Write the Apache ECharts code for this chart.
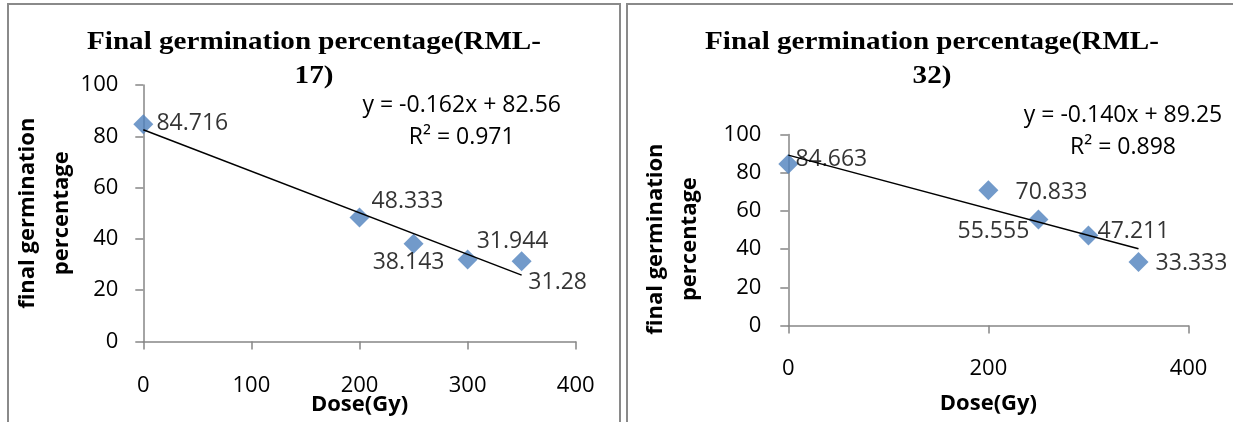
<!DOCTYPE html>
<html>
<head>
<meta charset="utf-8">
<title>Final germination percentage</title>
<script src="https://cdn.jsdelivr.net/npm/echarts@6/dist/echarts.min.js"></script>
<style>
  html, body { margin: 0; padding: 0; background: #fff; }
  #chart { width: 1233px; height: 422px; }
</style>
</head>
<body>
<div id="chart"></div>
<script>
// dose levels (Gy), same for both varieties
var doses = [0, 200, 250, 300, 350];

// RML-17
var germ17 = [84.716, 48.333, 38.143, 31.944, 31.28];
var fit17 = [-0.162, 82.56, 0.971]; // slope, intercept, R2

// RML-32
var germ32 = [84.663, 70.833, 55.555, 47.211, 33.333];
var fit32 = [-0.140, 89.25, 0.898];

var xTicks17 = 100;
var xTicks32 = 200;

// where each value label sits relative to its marker (px)
var offs17 = [[49, -1], [48, -16], [-5, 19], [45, -18], [36, 21]];
var offs32 = [[43, -4], [63, 2], [-45, 12], [45, -4], [53, 2]];

var FONT = 'Open Sans';
var AXIS_GREY = '#868686';

function points(ys, offs) {
    return doses.map(function (d, i) {
        return { value: [d, ys[i]], label: { offset: offs[i] } };
    });
}

function trend(fit) {
    var last = doses[doses.length - 1];
    return [[doses[0], fit[1] + fit[0] * doses[0]], [last, fit[1] + fit[0] * last]];
}

function eqText(fit) {
    var m = fit[0].toFixed(3);
    return 'y = ' + m + 'x + ' + fit[1].toFixed(2) + '\nR\u00b2 = ' + fit[2].toFixed(3);
}

function xAxis(idx, step, labelMargin, nameGap) {
    return {
        gridIndex: idx, type: 'value', min: 0, max: 400, interval: step,
        axisLine: { lineStyle: { color: AXIS_GREY, width: 1.5 } },
        axisTick: { length: 8, lineStyle: { color: AXIS_GREY, width: 1.5 } },
        axisLabel: { margin: labelMargin, fontSize: 22, color: '#000', fontFamily: FONT },
        splitLine: { show: false },
        name: 'Dose(Gy)', nameLocation: 'middle', nameGap: nameGap, nameMoveOverlap: false,
        nameTextStyle: { fontSize: 22, fontWeight: 'bold', color: '#000', fontFamily: FONT }
    };
}

function yAxis(idx, labelMargin, nameGap, pad) {
    return {
        gridIndex: idx, type: 'value', min: 0, max: 100, interval: 20,
        axisLine: { show: true, lineStyle: { color: AXIS_GREY, width: 1.5 } },
        axisTick: { show: true, length: 8, lineStyle: { color: AXIS_GREY, width: 1.5 } },
        axisLabel: { margin: labelMargin, fontSize: 22, color: '#000', fontFamily: FONT },
        splitLine: { show: false },
        name: 'final germination\npercentage', nameLocation: 'middle', nameRotate: 90, nameGap: nameGap,
        nameMoveOverlap: false,
        nameTextStyle: { fontSize: 22, fontWeight: 'bold', color: '#000', fontFamily: FONT,
            lineHeight: 34, padding: pad }
    };
}

function scatter(idx, ys, offs) {
    return {
        type: 'scatter', xAxisIndex: idx, yAxisIndex: idx, z: 2,
        symbol: 'diamond', symbolSize: 20,
        itemStyle: { color: '#4F81BD' },
        label: {
            show: true, position: 'inside', color: '#000', fontSize: 23, fontFamily: FONT,
            textBorderWidth: 0,
            formatter: function (p) { return String(p.value[1]); }
        },
        data: points(ys, offs)
    };
}

function trendLine(idx, fit) {
    return {
        type: 'line', xAxisIndex: idx, yAxisIndex: idx, z: 3,
        symbol: 'none', silent: true,
        lineStyle: { color: '#000', width: 1.5 },
        data: trend(fit)
    };
}

function titleText(x, label) {
    return {
        type: 'text', x: x, y: 59, scaleX: 1.12,
        style: {
            text: 'Final germination percentage(RML-\n' + label + ')',
            font: 'bold 26px "Liberation Serif"', fill: '#000',
            align: 'center', verticalAlign: 'middle', lineHeight: 34
        }
    };
}

function eqGraphic(x, y, fit) {
    return {
        type: 'text', x: x, y: y,
        style: {
            text: eqText(fit), font: '23px "' + FONT + '"', fill: '#000',
            align: 'center', verticalAlign: 'middle', lineHeight: 32
        }
    };
}

var chart = echarts.init(document.getElementById('chart'));
chart.setOption({
    animation: false,
    backgroundColor: '#fff',
    grid: [
        { left: 143.3, top: 85, width: 432.4, height: 256.5, outerBoundsMode: 'none' },
        { left: 788.3, top: 134.6, width: 400.2, height: 191, outerBoundsMode: 'none' }
    ],
    xAxis: [xAxis(0, xTicks17, 33, 52.5), xAxis(1, xTicks32, 32, 67.5)],
    yAxis: [yAxis(0, 25, 65, 0), yAxis(1, 27, 82, [0, 18, 0, 0])],
    series: [
        scatter(0, germ17, offs17), trendLine(0, fit17),
        scatter(1, germ32, offs32), trendLine(1, fit32)
    ],
    graphic: [
        { type: 'rect', shape: { x: 8, y: 4, width: 612, height: 440 },
          style: { fill: 'none', stroke: '#8a8a8a', lineWidth: 2 } },
        { type: 'rect', shape: { x: 627, y: 4, width: 640, height: 440 },
          style: { fill: 'none', stroke: '#8a8a8a', lineWidth: 2 } },
        titleText(314, '17'),
        titleText(932, '32'),
        eqGraphic(461.7, 121, fit17),
        eqGraphic(1123, 131, fit32)
    ]
});
</script>
</body>
</html>
